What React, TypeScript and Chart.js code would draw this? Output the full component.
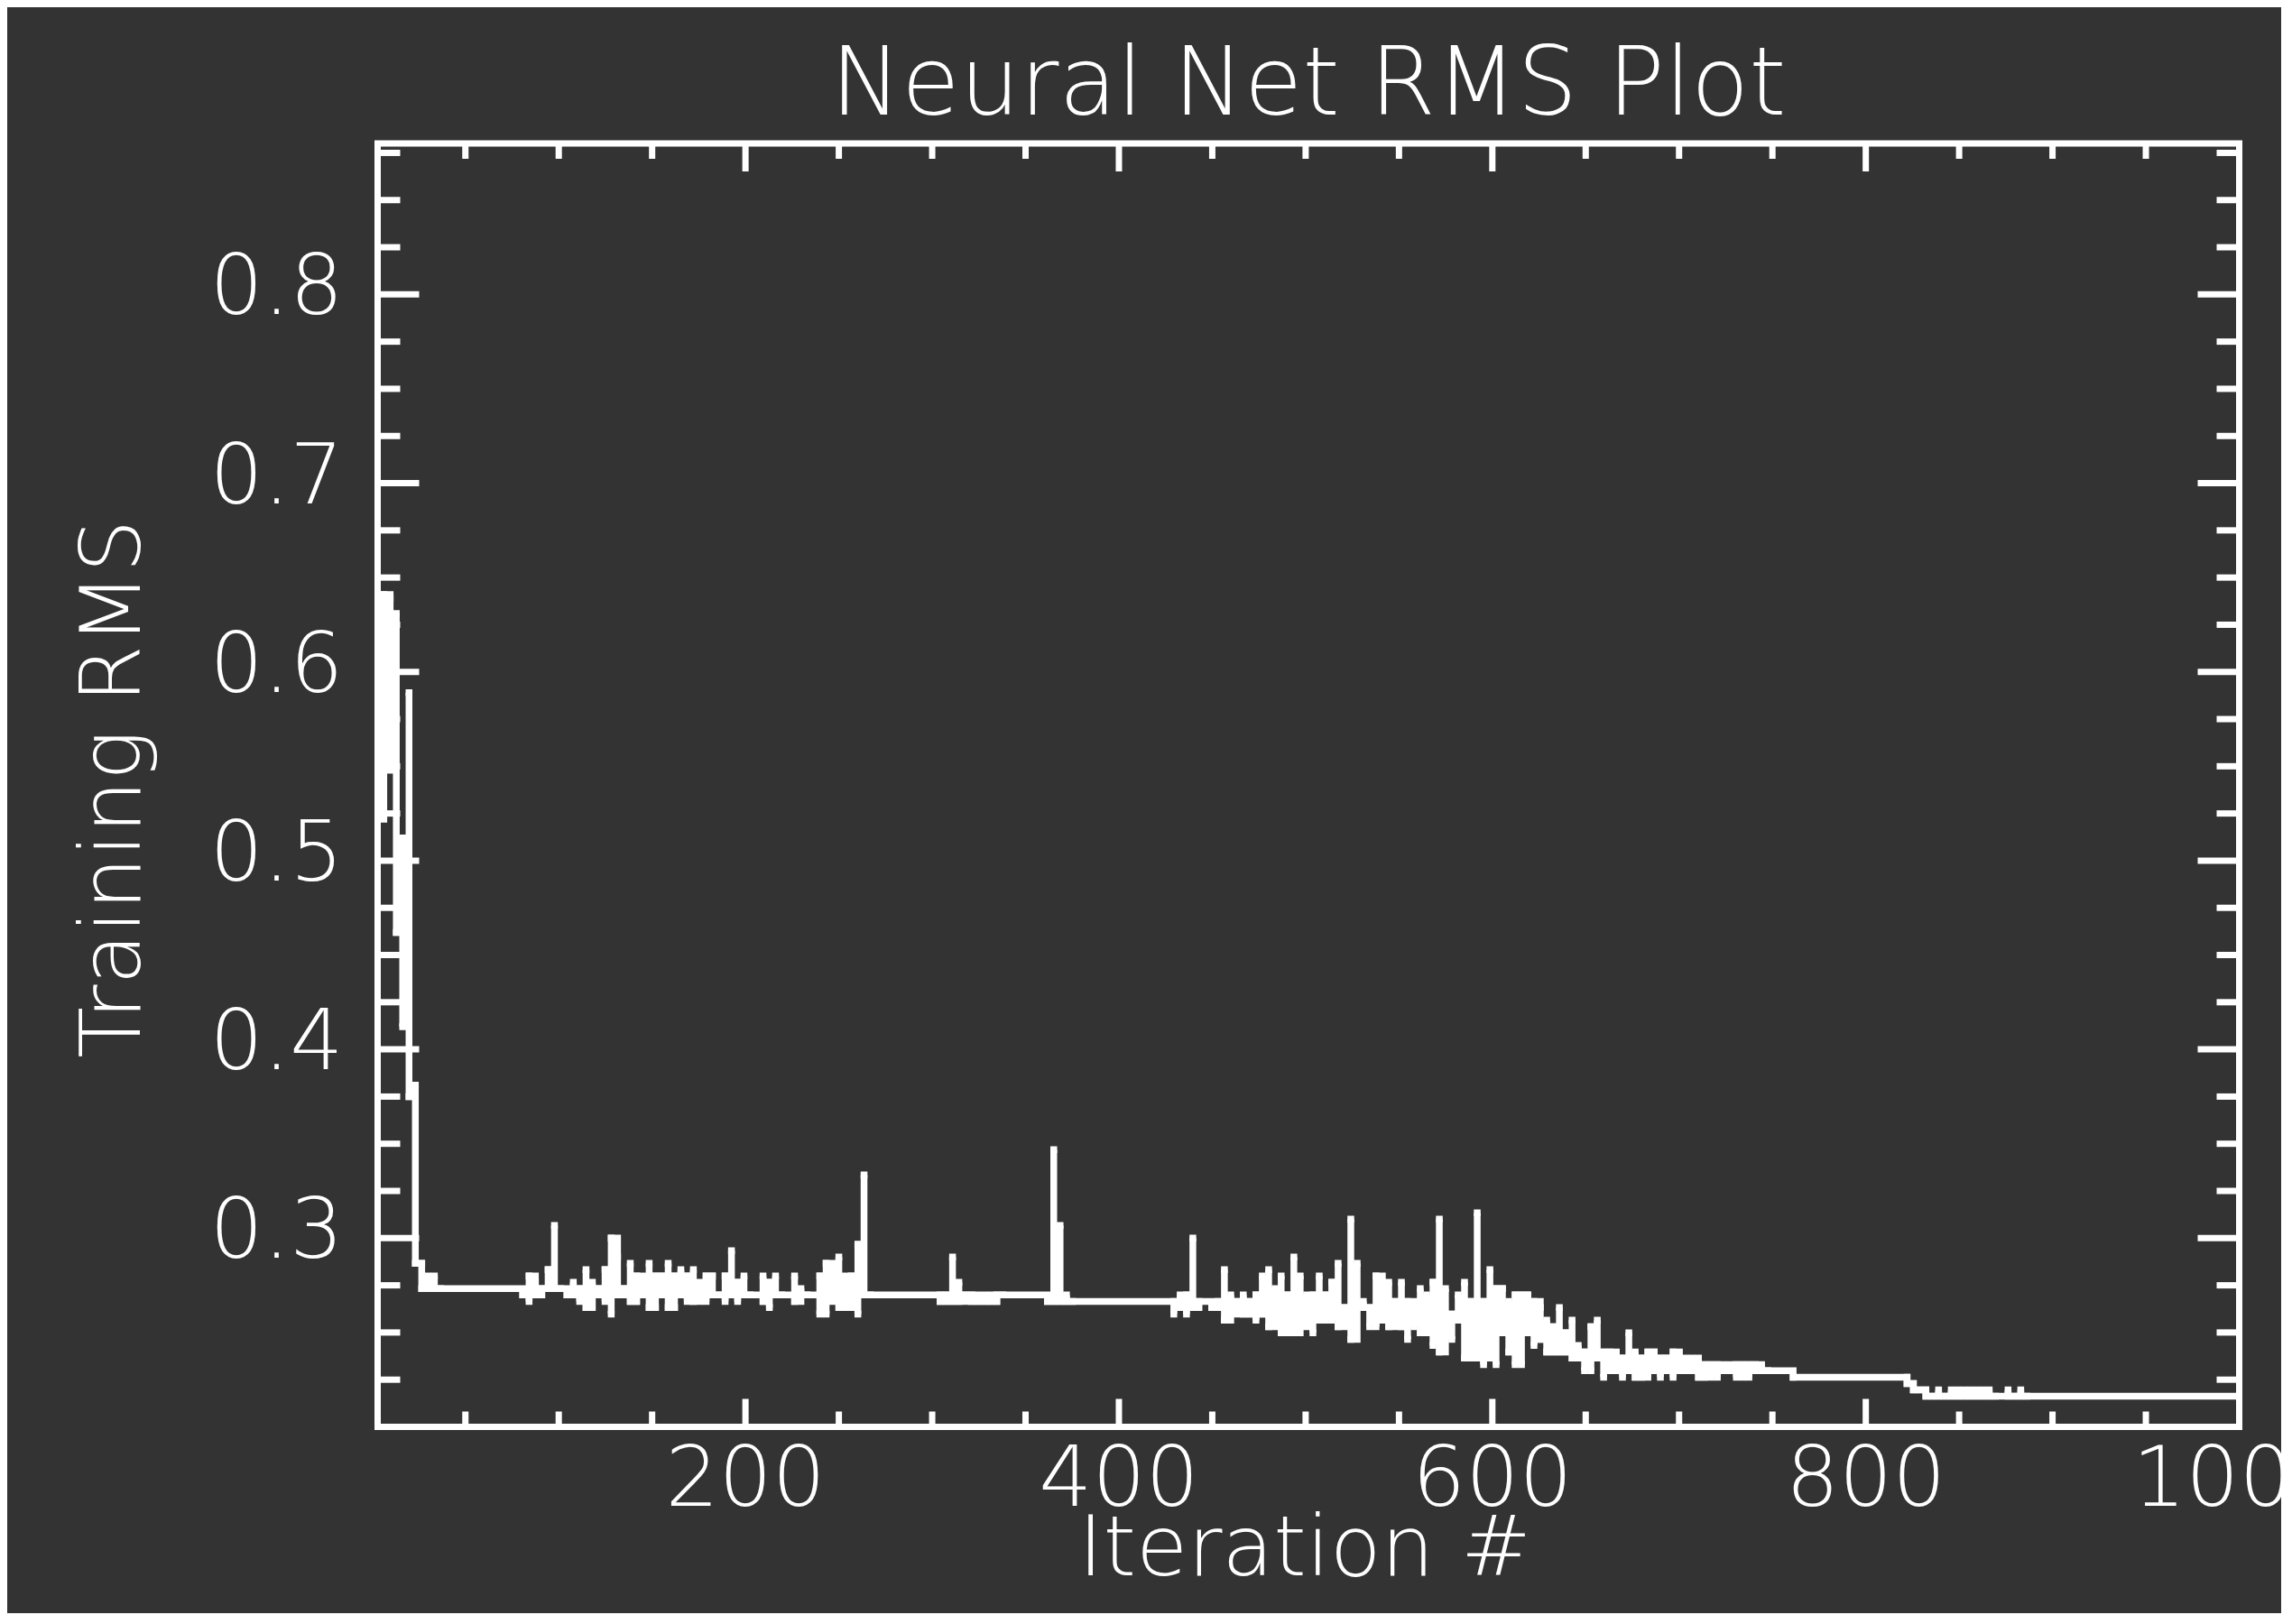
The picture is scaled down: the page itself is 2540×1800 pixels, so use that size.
import React, { useEffect, useRef } from "react";
import { Chart, registerables } from "chart.js";

Chart.register(...registerables);

// ---- chart text ----
const chartTitle = "Neural Net RMS Plot";
const xAxisTitle = "Iteration #";
const yAxisTitle = "Training RMS";

// ---- axes ----
const xRange = [3, 1000];
const yRange = [0.2, 0.88];
const xMajorTicks = [200, 400, 600, 800, 1000];
const xTickLabels = ["200", "400", "600", "800", "1000"];
const xMinorTicks = [50, 100, 150, 250, 300, 350, 450, 500, 550, 650, 700, 750, 850, 900, 950];
const yMajorTicks = [0.3, 0.4, 0.5, 0.6, 0.7, 0.8];
const yTickLabels = ["0.3", "0.4", "0.5", "0.6", "0.7", "0.8"];
const yMinorTicks = [0.225, 0.25, 0.275, 0.325, 0.35, 0.375, 0.425, 0.45, 0.475, 0.525, 0.55, 0.575,
  0.625, 0.65, 0.675, 0.725, 0.75, 0.775, 0.825, 0.85, 0.875];

// ---- data: iteration, and the high / low RMS seen around that iteration ----
const iterations = [
  2.9, 6.3, 9.7, 13.0, 16.4, 19.8, 23.2, 26.6, 30.0, 33.4, 36.7, 80.7, 84.1, 87.5, 90.9, 94.3, 97.7, 101.1, 104.4, 107.8,
  111.2, 114.6, 118.0, 121.4, 124.8, 128.1, 131.5, 134.9, 138.3, 141.7, 145.1, 148.4, 151.8, 155.2, 158.6, 162.0, 165.4, 168.8, 172.1, 175.5,
  178.9, 182.3, 185.7, 189.1, 192.5, 195.8, 199.2, 202.6, 209.4, 212.8, 216.1, 219.5, 226.3, 229.7, 233.1, 239.8, 243.2, 246.6, 250.0, 253.4,
  256.8, 260.2, 263.5, 266.9, 304.2, 307.5, 310.9, 314.3, 317.7, 321.1, 324.5, 327.9, 331.2, 334.6, 338.0, 361.7, 365.1, 368.5, 371.9, 375.2,
  429.4, 432.8, 436.2, 439.6, 442.9, 449.7, 453.1, 456.5, 459.9, 463.2, 466.6, 470.0, 473.4, 476.8, 480.2, 483.6, 486.9, 490.3, 493.7, 497.1,
  500.5, 503.9, 507.3, 510.6, 514.0, 517.4, 520.8, 524.2, 527.6, 530.9, 534.3, 537.7, 541.1, 544.5, 547.9, 551.3, 554.6, 558.0, 561.4, 564.8,
  568.2, 571.6, 574.9, 578.3, 581.7, 585.1, 588.5, 591.9, 595.3, 598.7, 602.0, 605.4, 608.8, 612.2, 615.6, 619.0, 622.3, 625.7, 629.1, 632.5,
  635.9, 639.3, 642.7, 646.0, 649.4, 652.8, 656.2, 659.6, 663.0, 666.4, 669.7, 673.1, 676.5, 679.9, 683.3, 686.7, 690.0, 693.4, 696.8, 700.2,
  703.6, 707.0, 710.4, 713.7, 717.1, 720.5, 723.9, 727.3, 730.7, 734.1, 737.4, 740.8, 744.2, 747.6, 761.1, 822.1, 825.5, 828.8, 832.2, 835.6,
  839.0, 842.4, 845.8, 849.2, 852.6, 855.9, 859.3, 862.7, 866.1, 869.5, 876.2, 879.6, 883.0, 886.4, 1000,
];
const rmsHigh = [
  0.635, 0.641, 0.639, 0.631, 0.512, 0.589, 0.381, 0.2866, 0.2799, 0.2799, 0.2732, 0.2699, 0.2799, 0.2766, 0.2732, 0.2833, 0.3067, 0.2732, 0.2699, 0.2766,
  0.2732, 0.2833, 0.2766, 0.2732, 0.2833, 0.3, 0.29, 0.2732, 0.2866, 0.2799, 0.2766, 0.2866, 0.2799, 0.2799, 0.2866, 0.2799, 0.2833, 0.2799, 0.2833, 0.2766,
  0.2799, 0.2799, 0.2699, 0.2799, 0.2933, 0.2766, 0.2799, 0.2699, 0.2799, 0.2766, 0.2799, 0.2699, 0.2799, 0.2732, 0.2699, 0.2799, 0.2866, 0.2833, 0.29, 0.2799,
  0.2799, 0.2967, 0.3335, 0.2699, 0.2699, 0.2699, 0.29, 0.2766, 0.2699, 0.2699, 0.2699, 0.2699, 0.2699, 0.2699, 0.2699, 0.2665, 0.3469, 0.3067, 0.2699, 0.2665,
  0.2665, 0.2699, 0.2699, 0.3, 0.2665, 0.2632, 0.2665, 0.2833, 0.2699, 0.2665, 0.2699, 0.2665, 0.2699, 0.2799, 0.2833, 0.2732, 0.2799, 0.2699, 0.29, 0.2799,
  0.2699, 0.2699, 0.2799, 0.2699, 0.2766, 0.2866, 0.2632, 0.3101, 0.2866, 0.2665, 0.2632, 0.2799, 0.2766, 0.2766, 0.2665, 0.2766, 0.2665, 0.2632, 0.2732, 0.2699,
  0.2766, 0.3101, 0.2732, 0.2598, 0.2699, 0.2766, 0.2665, 0.3134, 0.2665, 0.2833, 0.2732, 0.2732, 0.2665, 0.2699, 0.2699, 0.2699, 0.2665, 0.2632, 0.2565, 0.2531,
  0.2632, 0.2498, 0.2565, 0.2431, 0.2397, 0.2531, 0.2565, 0.2397, 0.2397, 0.2397, 0.2364, 0.2498, 0.2397, 0.2364, 0.2397, 0.2397, 0.2364, 0.2364, 0.2397, 0.2364,
  0.2364, 0.2364, 0.2364, 0.233, 0.233, 0.233, 0.2297, 0.233, 0.233, 0.233, 0.233, 0.233, 0.233, 0.2297, 0.2263, 0.2263, 0.223, 0.2196, 0.2196, 0.2163,
  0.2196, 0.2163, 0.2196, 0.2196, 0.2196, 0.2196, 0.2196, 0.2196, 0.2196, 0.2163, 0.2196, 0.2163, 0.2196, 0.2163, 0.2163,
];
const rmsLow = [
  0.56, 0.522, 0.548, 0.462, 0.412, 0.375, 0.2866, 0.2732, 0.2732, 0.2732, 0.2732, 0.2699, 0.2665, 0.2699, 0.2699, 0.2732, 0.2732, 0.2732, 0.2699, 0.2699,
  0.2665, 0.2632, 0.2699, 0.2699, 0.2665, 0.2598, 0.2699, 0.2699, 0.2665, 0.2665, 0.2699, 0.2632, 0.2632, 0.2699, 0.2632, 0.2632, 0.2699, 0.2665, 0.2665, 0.2699,
  0.2665, 0.2699, 0.2699, 0.2665, 0.2699, 0.2665, 0.2699, 0.2699, 0.2665, 0.2632, 0.2699, 0.2699, 0.2665, 0.2699, 0.2699, 0.2598, 0.2598, 0.2665, 0.2632, 0.2665,
  0.2632, 0.2598, 0.2699, 0.2699, 0.2665, 0.2665, 0.2665, 0.2665, 0.2699, 0.2665, 0.2665, 0.2665, 0.2665, 0.2665, 0.2699, 0.2665, 0.2665, 0.2665, 0.2665, 0.2665,
  0.2598, 0.2632, 0.2598, 0.2632, 0.2665, 0.2632, 0.2632, 0.2565, 0.2665, 0.2598, 0.2598, 0.2598, 0.2565, 0.2598, 0.2531, 0.2598, 0.2498, 0.2598, 0.2498, 0.2531,
  0.2598, 0.2498, 0.2565, 0.2565, 0.2565, 0.2531, 0.2565, 0.2464, 0.2632, 0.2632, 0.2531, 0.2531, 0.2565, 0.2531, 0.2565, 0.2531, 0.2464, 0.2531, 0.2498, 0.2531,
  0.2431, 0.2397, 0.2598, 0.2464, 0.2565, 0.2364, 0.2431, 0.2364, 0.233, 0.2364, 0.233, 0.2498, 0.2397, 0.233, 0.233, 0.2498, 0.2431, 0.2464, 0.2397, 0.2397,
  0.2397, 0.2397, 0.2364, 0.2364, 0.2297, 0.2297, 0.2364, 0.2263, 0.2297, 0.2297, 0.2263, 0.2297, 0.2263, 0.2263, 0.2263, 0.2297, 0.2263, 0.2297, 0.2263, 0.2297,
  0.2297, 0.2297, 0.2263, 0.2263, 0.2263, 0.2263, 0.2297, 0.2297, 0.2263, 0.2263, 0.2263, 0.2297, 0.2297, 0.2297, 0.2263, 0.223, 0.2196, 0.2196, 0.2163, 0.2163,
  0.2163, 0.2163, 0.2163, 0.2163, 0.2163, 0.2163, 0.2163, 0.2163, 0.2163, 0.2163, 0.2163, 0.2163, 0.2163, 0.2163, 0.2163,
];

const BG = "#333333";
const FG = "#ffffff";
const FONT = '"DejaVu Sans", sans-serif';
const WEIGHT = "200";

function buildPoints() {
  const pts: { x: number; y: number }[] = [];
  const n = Math.min(iterations.length, rmsHigh.length, rmsLow.length);
  for (let i = 0; i < n; i++) {
    const hi = rmsHigh[i];
    const lo = rmsLow[i];
    if (hi === lo) {
      pts.push({ x: iterations[i], y: hi });
      continue;
    }
    const next = i + 1 < n ? (rmsHigh[i + 1] + rmsLow[i + 1]) / 2 : lo;
    const exit = Math.abs(hi - next) < Math.abs(lo - next) ? hi : lo;
    const entry = exit === hi ? lo : hi;
    pts.push({ x: iterations[i], y: entry }, { x: iterations[i], y: exit });
  }
  return pts;
}

const idlFrame = {
  id: "idlFrame",
  afterDatasetsDraw(chart: any) {
    const { ctx, chartArea: a, scales } = chart;
    const xs = scales.x;
    const ys = scales.y;
    ctx.save();
    ctx.strokeStyle = FG;
    ctx.lineWidth = 7;
    ctx.lineCap = "butt";
    ctx.lineJoin = "miter";
    ctx.strokeRect(a.left, a.top, a.right - a.left, a.bottom - a.top);
    const seg = (x1: number, y1: number, x2: number, y2: number) => {
      ctx.beginPath();
      ctx.moveTo(x1, y1);
      ctx.lineTo(x2, y2);
      ctx.stroke();
    };
    xMajorTicks.forEach((v) => {
      const px = xs.getPixelForValue(v);
      seg(px, a.bottom, px, a.bottom - 31);
      seg(px, a.top, px, a.top + 31);
    });
    xMinorTicks.forEach((v) => {
      const px = xs.getPixelForValue(v);
      seg(px, a.bottom, px, a.bottom - 17);
      seg(px, a.top, px, a.top + 17);
    });
    yMajorTicks.forEach((v) => {
      const py = ys.getPixelForValue(v);
      seg(a.left, py, a.left + 46, py);
      seg(a.right, py, a.right - 46, py);
    });
    yMinorTicks.forEach((v) => {
      const py = ys.getPixelForValue(v);
      seg(a.left, py, a.left + 25, py);
      seg(a.right, py, a.right - 25, py);
    });

    ctx.fillStyle = FG;
    ctx.textBaseline = "alphabetic";
    // y tick labels
    ctx.font = `${WEIGHT} 93px ${FONT}`;
    ctx.textAlign = "right";
    yMajorTicks.forEach((v, i) => {
      const py = ys.getPixelForValue(v);
      ctx.fillText(yTickLabels[i], a.left - 38, py + 22);
    });
    // x tick labels
    ctx.textAlign = "center";
    xMajorTicks.forEach((v, i) => {
      const px = xs.getPixelForValue(v);
      ctx.fillText(xTickLabels[i], px, a.bottom + 87);
    });
    const cx = (a.left + a.right) / 2;
    // x axis title
    ctx.fillText(xAxisTitle, cx - 4, a.bottom + 164);
    // title
    ctx.font = `${WEIGHT} 105px ${FONT}`;
    ctx.fillText(chartTitle, cx, a.top - 32);
    // y axis title
    ctx.font = `${WEIGHT} 93px ${FONT}`;
    ctx.save();
    ctx.translate(147, (a.top + a.bottom) / 2 + 4);
    ctx.rotate(-Math.PI / 2);
    ctx.textAlign = "center";
    ctx.fillText(yAxisTitle, 0, 0);
    ctx.restore();
    ctx.restore();
  },
};

export default function App() {
  const ref = useRef<HTMLCanvasElement | null>(null);
  useEffect(() => {
    if (!ref.current) return;
    const chart = new Chart(ref.current, {
      type: "line",
      data: {
        datasets: [
          {
            data: buildPoints(),
            borderColor: FG,
            borderWidth: 7.5,
            stepped: true,
            borderJoinStyle: "miter",
            borderCapStyle: "butt",
            pointStyle: "rect",
            pointRadius: 5.3,
            pointBorderWidth: 0,
            pointBackgroundColor: FG,
            pointHoverRadius: 5.3,
            fill: false,
          } as any,
        ],
      },
      options: {
        animation: false,
        responsive: false,
        devicePixelRatio: 1,
        events: [],
        layout: { padding: { left: 410.5, top: 151, right: 46.5, bottom: 206.5 } },
        plugins: { legend: { display: false }, tooltip: { enabled: false }, title: { display: false } },
        scales: {
          x: { type: "linear", min: xRange[0], max: xRange[1], display: false },
          y: { type: "linear", min: yRange[0], max: yRange[1], display: false },
        },
      },
      plugins: [idlFrame],
    });
    return () => chart.destroy();
  }, []);
  return (
    <canvas
      ref={ref}
      width={2520}
      height={1780}
      style={{ display: "block", background: BG, width: 2520, height: 1780 }}
    />
  );
}
